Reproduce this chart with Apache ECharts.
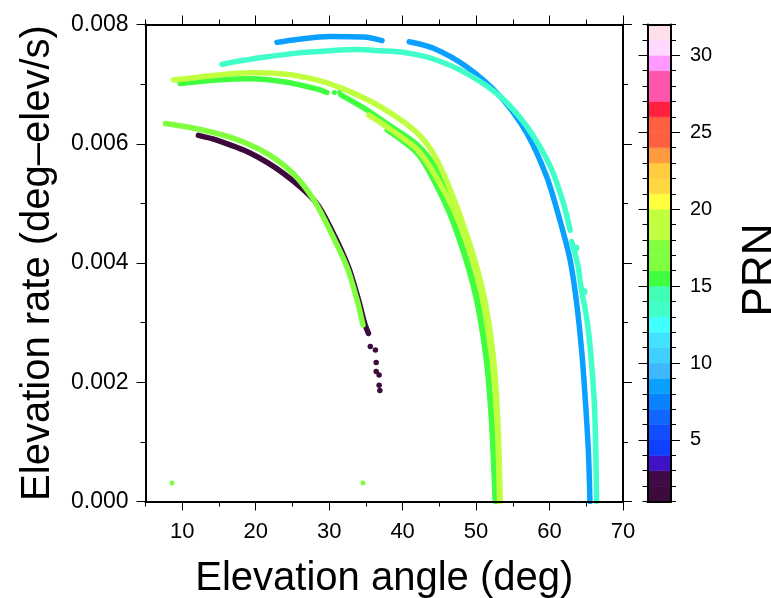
<!DOCTYPE html>
<html>
<head>
<meta charset="utf-8">
<script src="https://cdn.jsdelivr.net/npm/echarts@6/dist/echarts.min.js"></script>
<style>
  html, body { margin: 0; padding: 0; background: #fff; }
  #chart { width: 771px; height: 598px; }
</style>
</head>
<body>
<div id="chart"></div>
<script>
// PRN colour table: one colour per unit step, PRN 1 (bottom) .. 31 (top block, up to 32)
const prnPalette = [
  '#3c0a3c', '#400a46', '#3f12c6', '#1040ff', '#104eff', '#1066ff', '#0a82ff',
  '#0aa0ff', '#40b8ff', '#40d0ff', '#40e2ff', '#40ffff', '#40ffc8', '#40ffb4',
  '#40ff40', '#80ff40', '#80ff40', '#c0ff40', '#c0ff40', '#ffff40', '#ffd840',
  '#ffcc40', '#ff9a40', '#ff6040', '#ff6040', '#ff2040', '#ff55aa', '#ff55aa',
  '#ff99ff', '#ffd9ff', '#ffe0e8'
];
const prnMin = 1;
const prnMax = 32;
const prnMajorTicks = [5, 10, 15, 20, 25, 30];

// Axis ticks
const angleMajorTicks = [10, 20, 30, 40, 50, 60, 70];
const angleMinorTicks = [5, 15, 25, 35, 45, 55, 65];
const rateMax = 0.008;
const rateStep = 0.002;

// Satellite tracks: [elevation angle (deg), elevation rate (deg-elev/s)]
const prn1Track = [[12.2, 0.00614], [14.7, 0.00606], [19.3, 0.00584], [23.8, 0.00550], [28.1, 0.00503],
  [30.35, 0.00455], [32.6, 0.00394], [34.0, 0.00338], [34.85, 0.00298], [35.35, 0.00282]];
const prn1Dots = [[35.6, 0.00260], [36.3, 0.00254], [36.4, 0.00233], [36.4, 0.00218], [36.8, 0.00212],
  [36.8, 0.00195], [36.9, 0.00186]];

const prn16Track = [[7.7, 0.00634], [12.45, 0.00624], [17.0, 0.00609], [21.5, 0.00584], [25.1, 0.00550],
  [27.9, 0.00506], [30.1, 0.00455], [32.4, 0.00394], [33.8, 0.00338], [34.6, 0.00296]];
const prn16Dots = [[8.6, 0.00031], [34.6, 0.00031]];

const prn19TrackA = [[8.8, 0.00707], [14.7, 0.00715], [19.3, 0.00719], [23.8, 0.00717], [28.3, 0.00707],
  [32.9, 0.00687], [37.4, 0.00659], [42.0, 0.00618], [44.7, 0.00572], [48.05, 0.00472], [50.8, 0.00360],
  [52.3, 0.00249], [52.95, 0.00137], [53.3, 0.0]];
const prn19TrackB = [[35.4, 0.00648], [38.6, 0.00622], [42.0, 0.00590], [45.0, 0.00535], [47.8, 0.00465],
  [50.6, 0.00355], [52.1, 0.00245], [52.85, 0.00135], [53.2, 0.0]];

const prn15TrackA1 = [[9.7, 0.00701], [14.7, 0.00707], [19.3, 0.00709], [23.8, 0.00704], [28.3, 0.00692],
  [29.7, 0.00686]];
const prn15Dots = [[30.7, 0.00686], [31.4, 0.00686]];
const prn15TrackA2 = [[31.6, 0.00682], [35.1, 0.00657], [38.3, 0.00630], [42.0, 0.00598], [44.6, 0.00557],
  [47.1, 0.00478], [49.9, 0.00360], [51.4, 0.00249], [52.15, 0.00137], [52.7, 0.0]];
const prn15TrackB = [[37.9, 0.00623], [42.0, 0.00584], [44.2, 0.00540], [46.9, 0.00468], [49.7, 0.00358],
  [51.3, 0.00247], [52.1, 0.00136], [52.6, 0.0]];

const prn8Track1 = [[22.9, 0.00770], [25.6, 0.00775], [30.1, 0.00780], [34.7, 0.00779], [37.2, 0.00773]];
const prn8Track2 = [[40.9, 0.00771], [44.2, 0.00760], [48.7, 0.00729], [53.3, 0.00679], [56.9, 0.00618],
  [59.6, 0.00545], [61.4, 0.00472], [62.8, 0.00405], [63.7, 0.00332], [64.4, 0.00249], [64.9, 0.00165],
  [65.3, 0.00081], [65.5, 0.0]];

const prn13Track1 = [[15.4, 0.00733], [16.5, 0.00736], [21.1, 0.00745], [25.6, 0.00752], [30.1, 0.00756],
  [33.8, 0.00758], [36.9, 0.00756], [40.2, 0.00753], [44.0, 0.00743], [48.7, 0.00718], [53.3, 0.00679],
  [56.9, 0.00629], [60.1, 0.00562], [61.9, 0.00500], [62.8, 0.00455]];
const prn13Track2 = [[63.0, 0.00436], [63.9, 0.00394], [64.2, 0.00366], [65.1, 0.00304], [65.6, 0.00249],
  [66.1, 0.00165], [66.3, 0.00081], [66.4, 0.0]];
const prn13Dots = [[63.6, 0.00425], [64.7, 0.00352]];

const FONT = "'Liberation Sans', Arial, Helvetica, sans-serif";
const prnColor = prn => prnPalette[prn - prnMin];

function track(data, prn) {
  return {
    type: 'line', xAxisIndex: 0, yAxisIndex: 0, data: data,
    smooth: 0.3, showSymbol: false, symbol: 'none', silent: true,
    lineStyle: { color: prnColor(prn), width: 5.5, cap: 'round', join: 'round' },
    z: 2
  };
}
function dots(data, prn, size) {
  return {
    type: 'scatter', xAxisIndex: 0, yAxisIndex: 0, data: data, silent: true,
    symbolSize: size, itemStyle: { color: prnColor(prn), opacity: 1 }, z: 3
  };
}

const lineBlack = { show: true, lineStyle: { color: '#000', width: 2 } };
const tickStyle = { color: '#000', width: 1 };

const chart = echarts.init(document.getElementById('chart'), null, { renderer: 'canvas' });
chart.setOption({
  animation: false,
  backgroundColor: '#fff',
  textStyle: { fontFamily: FONT },
  grid: [
    { left: 145.5, top: 24.5, width: 477.5, height: 477, containLabel: false, outerBoundsMode: 'none' },
    { left: 647.5, top: 24.5, width: 23.5, height: 477, containLabel: false, outerBoundsMode: 'none' }
  ],
  xAxis: [
    {
      gridIndex: 0, type: 'value', position: 'bottom', min: 5, max: 70, z: 5,
      axisLine: lineBlack,
      axisTick: { show: true, customValues: angleMajorTicks, length: 9, lineStyle: tickStyle },
      axisLabel: { customValues: angleMajorTicks, fontSize: 22, color: '#000', margin: 19, fontFamily: FONT },
      splitLine: { show: false },
      name: 'Elevation angle (deg)', nameLocation: 'middle', nameGap: 57,
      nameTextStyle: { fontSize: 40, color: '#000', fontFamily: FONT }
    },
    {
      gridIndex: 0, type: 'value', position: 'bottom', min: 5, max: 70, z: 5,
      axisLine: { show: false },
      axisTick: { show: true, customValues: angleMinorTicks, length: 5, lineStyle: tickStyle },
      axisLabel: { show: false }, splitLine: { show: false }
    },
    {
      gridIndex: 0, type: 'value', position: 'top', min: 5, max: 70, z: 5,
      axisLine: lineBlack,
      axisTick: { show: true, customValues: angleMajorTicks, length: 9, lineStyle: tickStyle },
      axisLabel: { show: false }, splitLine: { show: false }
    },
    {
      gridIndex: 0, type: 'value', position: 'top', min: 5, max: 70, z: 5,
      axisLine: { show: false },
      axisTick: { show: true, customValues: angleMinorTicks, length: 5, lineStyle: tickStyle },
      axisLabel: { show: false }, splitLine: { show: false }
    },
    {
      gridIndex: 1, type: 'value', position: 'bottom', min: 0, max: 1, z: 5,
      axisLine: lineBlack, axisTick: { show: false }, axisLabel: { show: false }, splitLine: { show: false }
    },
    {
      gridIndex: 1, type: 'value', position: 'top', min: 0, max: 1, z: 5,
      axisLine: lineBlack, axisTick: { show: false }, axisLabel: { show: false }, splitLine: { show: false }
    }
  ],
  yAxis: [
    {
      gridIndex: 0, type: 'value', position: 'left', min: 0, max: rateMax, interval: rateStep, z: 5,
      axisLine: lineBlack,
      axisTick: { show: true, length: 9, lineStyle: tickStyle },
      minorTick: { show: true, splitNumber: 2, length: 5, lineStyle: tickStyle },
      axisLabel: { fontSize: 23, color: '#000', margin: 17, fontFamily: FONT, formatter: v => v.toFixed(3) },
      splitLine: { show: false }, minorSplitLine: { show: false },
      name: 'Elevation rate (deg\u2013elev/s)', nameLocation: 'middle', nameGap: 88, nameRotate: 90,
      nameTextStyle: { fontSize: 40, color: '#000', fontFamily: FONT }
    },
    {
      gridIndex: 0, type: 'value', position: 'right', min: 0, max: rateMax, interval: rateStep, z: 5,
      axisLine: lineBlack,
      axisTick: { show: true, length: 9, lineStyle: tickStyle },
      minorTick: { show: true, splitNumber: 2, length: 5, lineStyle: tickStyle },
      axisLabel: { show: false }, splitLine: { show: false }
    },
    {
      gridIndex: 1, type: 'value', position: 'left', min: prnMin, max: prnMax, z: 5,
      axisLine: lineBlack,
      axisTick: { show: true, customValues: prnMajorTicks, length: 9, lineStyle: tickStyle },
      axisLabel: { show: false }, splitLine: { show: false }
    },
    {
      gridIndex: 1, type: 'value', position: 'left', min: prnMin, max: prnMax, interval: 1, z: 5,
      axisLine: { show: false },
      axisTick: { show: true, length: 5, lineStyle: tickStyle },
      axisLabel: { show: false }, splitLine: { show: false }
    },
    {
      gridIndex: 1, type: 'value', position: 'right', min: prnMin, max: prnMax, z: 5,
      axisLine: lineBlack,
      axisTick: { show: true, customValues: prnMajorTicks, length: 9, lineStyle: tickStyle },
      axisLabel: { customValues: prnMajorTicks, fontSize: 20, color: '#000', margin: 19, fontFamily: FONT },
      splitLine: { show: false },
      name: 'PRN', nameLocation: 'middle', nameGap: 68, nameRotate: 90,
      nameTextStyle: { fontSize: 44, color: '#000', fontFamily: FONT, padding: [0, 14, 0, 0] }
    },
    {
      gridIndex: 1, type: 'value', position: 'right', min: prnMin, max: prnMax, interval: 1, z: 5,
      axisLine: { show: false },
      axisTick: { show: true, length: 5, lineStyle: tickStyle },
      axisLabel: { show: false }, splitLine: { show: false }
    }
  ],
  series: [
    // colour bar blocks, one per PRN step
    {
      type: 'custom', xAxisIndex: 4, yAxisIndex: 2, silent: true, z: 1,
      data: prnPalette.map((c, i) => [prnMin + i]),
      renderItem: function (params, api) {
        const k = api.value(0);
        const lo = api.coord([0, k]);
        const hi = api.coord([1, k + 1]);
        return {
          type: 'rect',
          shape: { x: lo[0], y: hi[1], width: hi[0] - lo[0], height: lo[1] - hi[1] },
          style: { fill: prnColor(k), stroke: prnColor(k), lineWidth: 0.5 }
        };
      }
    },
    track(prn1Track, 1),
    dots(prn1Dots, 1, 5.5),
    track(prn16Track, 16),
    dots(prn16Dots, 16, 5),
    track(prn15TrackA1, 15),
    dots(prn15Dots, 15, 5),
    track(prn15TrackA2, 15),
    track(prn15TrackB, 15),
    track(prn19TrackA, 19),
    track(prn19TrackB, 19),
    track(prn8Track1, 8),
    track(prn8Track2, 8),
    track(prn13Track1, 13),
    track(prn13Track2, 13),
    dots(prn13Dots, 13, 7)
  ]
});
</script>
</body>
</html>
